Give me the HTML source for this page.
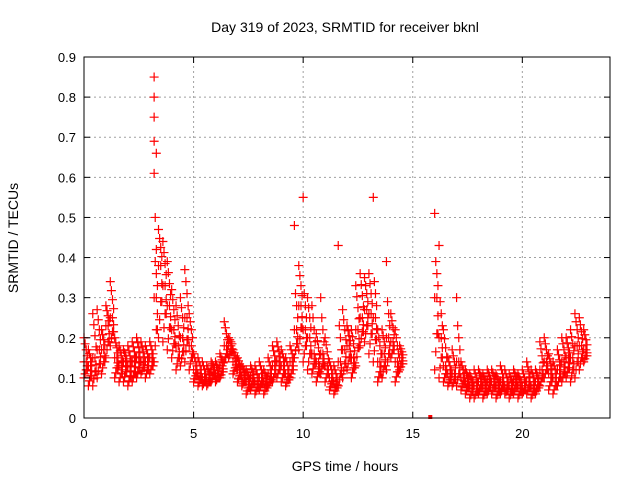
<!DOCTYPE html>
<html><head><meta charset="utf-8"><style>
body{margin:0;background:#fff;}
svg{display:block;font-family:"Liberation Sans",sans-serif;}
</style></head><body>
<svg id="chart" width="640" height="480" xmlns="http://www.w3.org/2000/svg">
<rect width="640" height="480" fill="#fff"/>
<text x="345" y="32" font-size="14" text-anchor="middle">Day 319 of 2023, SRMTID for receiver bknl</text>
<text transform="translate(18,238) rotate(-90)" font-size="14" text-anchor="middle">SRMTID / TECUs</text>
<text x="345" y="471" font-size="14" text-anchor="middle">GPS time / hours</text>
<g id="grid"></g>
<g id="marks"></g>
<rect x="84" y="57" width="526" height="361" fill="none" stroke="#000" stroke-width="1"/>
<g id="ticks"></g>
</svg>
<script>
const xTicks=[0,5,10,15,20];
const yTicks=[0,0.1,0.2,0.3,0.4,0.5,0.6,0.7,0.8,0.9];
const times=[0,0.2,0.4,0.6,0.8,1.0,1.2,1.4,1.6,1.8,2.0,2.2,2.4,2.6,2.8,3.0,3.2,3.4,3.6,3.8,4.0,4.2,4.4,4.6,4.8,5.0,5.2,5.4,5.6,5.8,6.0,6.2,6.4,6.6,6.8,7.0,7.2,7.4,7.6,7.8,8.0,8.2,8.4,8.6,8.8,9.0,9.2,9.4,9.6,9.8,10.0,10.2,10.4,10.6,10.8,11.0,11.2,11.4,11.6,11.8,12.0,12.2,12.4,12.6,12.8,13.0,13.2,13.4,13.6,13.8,14.0,14.2,14.4,16.0,16.2,16.4,16.6,16.8,17.0,17.2,17.4,17.6,17.8,18.0,18.2,18.4,18.6,18.8,19.0,19.2,19.4,19.6,19.8,20.0,20.2,20.4,20.6,20.8,21.0,21.2,21.4,21.6,21.8,22.0,22.2,22.4,22.6,22.8];
const lowVals=[.10,.08,.08,.10,.11,.15,.18,.10,.09,.09,.08,.09,.10,.11,.10,.11,.14,.20,.19,.17,.15,.12,.13,.14,.12,.09,.08,.08,.08,.09,.09,.10,.14,.15,.11,.09,.08,.06,.07,.06,.07,.06,.08,.09,.10,.09,.08,.10,.15,.17,.14,.12,.11,.09,.11,.09,.07,.06,.08,.10,.12,.10,.13,.18,.19,.16,.14,.09,.10,.12,.15,.09,.12,.12,.10,.09,.08,.08,.08,.07,.06,.05,.05,.06,.05,.06,.06,.05,.06,.06,.05,.06,.05,.06,.06,.05,.06,.08,.10,.07,.06,.08,.09,.10,.09,.10,.12,.14];
const midVals=[.14,.13,.15,.17,.17,.23,.25,.15,.13,.14,.13,.14,.15,.14,.14,.15,.30,.38,.33,.28,.22,.18,.20,.25,.18,.12,.11,.10,.10,.12,.11,.13,.18,.18,.14,.12,.10,.09,.10,.09,.10,.09,.11,.13,.14,.13,.11,.14,.22,.28,.22,.20,.16,.14,.16,.13,.10,.09,.14,.17,.18,.15,.22,.25,.27,.26,.25,.14,.16,.20,.19,.14,.15,.30,.20,.13,.11,.11,.14,.10,.09,.08,.08,.09,.08,.09,.09,.08,.09,.08,.08,.09,.08,.08,.09,.08,.09,.12,.14,.11,.10,.12,.14,.15,.15,.18,.18,.17];
const highVals=[.20,.17,.26,.27,.22,.28,.34,.20,.18,.17,.18,.19,.20,.19,.18,.19,.85,.47,.44,.39,.32,.28,.30,.37,.26,.16,.15,.14,.13,.14,.14,.16,.24,.20,.17,.15,.13,.12,.13,.13,.14,.12,.15,.18,.19,.17,.15,.18,.48,.38,.55,.30,.28,.21,.30,.20,.14,.13,.43,.27,.23,.22,.33,.36,.35,.36,.55,.22,.22,.39,.26,.22,.18,.51,.43,.22,.15,.17,.30,.14,.12,.11,.12,.12,.11,.12,.12,.11,.13,.12,.11,.12,.11,.12,.14,.12,.12,.19,.20,.16,.14,.17,.20,.20,.22,.26,.25,.22];
const spikeTimes=[3.2,3.2,3.2,3.2,3.25,3.3,3.3];
const spikeVals=[0.80,0.75,0.69,0.61,0.50,0.42,0.66];
const zeroTimes=[15.8];
const zeroVals=[0];

const X0=84,X1=610,Y0=418,Y1=57;
const xs=t=>X0+t*(X1-X0)/24;
const ys=v=>Y0-v*(Y0-Y1)/0.9;
const NS="http://www.w3.org/2000/svg";
const grid=document.getElementById('grid'),marks=document.getElementById('marks'),ticks=document.getElementById('ticks');
function mk(tag,attrs,parent){const e=document.createElementNS(NS,tag);for(const k in attrs)e.setAttribute(k,attrs[k]);parent.appendChild(e);return e;}
xTicks.forEach(t=>{
  const x=xs(t);
  if(t>0){const g=mk('line',{x1:x,y1:Y0,x2:x,y2:Y1,stroke:'#a0a0a0','stroke-dasharray':'2,3'},grid);
  
  }
  mk('line',{x1:x,y1:Y0,x2:x,y2:Y0-6,stroke:'#000'},ticks);
  mk('line',{x1:x,y1:Y1,x2:x,y2:Y1+6,stroke:'#000'},ticks);
  const l=mk('text',{x:x,y:Y0+20,'font-size':13,'text-anchor':'middle'},ticks);l.textContent=t;
  
  
});
yTicks.forEach(v=>{
  const y=ys(v);
  if(v>0&&v<0.9){const g=mk('line',{x1:X0,y1:y,x2:X1,y2:y,stroke:'#a0a0a0','stroke-dasharray':'2,3'},grid);
  
  }
  mk('line',{x1:X0,y1:y,x2:X0+6,y2:y,stroke:'#000'},ticks);
  mk('line',{x1:X1,y1:y,x2:X1-6,y2:y,stroke:'#000'},ticks);
  const l=mk('text',{x:X0-8,y:y+5,'font-size':13,'text-anchor':'end'},ticks);l.textContent=(v===0?'0':v.toFixed(1));
  
  
});
function plus(t,v){
  const x=xs(t),y=ys(v);
  const p=mk('path',{d:`M${x-4.5},${y}h9M${x},${y-4.5}v9`,stroke:'#ff0000','stroke-width':1.2,fill:'none'},marks);
  
  
}
times.forEach((t,i)=>{
  const lo=lowVals[i],mi=midVals[i],hi=highVals[i];
  const capHi=Math.min(hi,mi+0.12);
  [lo,mi,hi].forEach(v=>plus(t,v));
  const fr=[0.25,0.5,0.75];
  fr.forEach((f,j)=>{
    plus(t+0.05*(j+1),lo+(mi-lo)*f);
    plus(t+0.05*(3-j),mi+(capHi-mi)*f);
  });
  plus(t+0.1,mi);plus(t+0.15,lo+(mi-lo)*0.5);
});
spikeTimes.forEach((t,i)=>plus(t,spikeVals[i]));
zeroTimes.forEach((t,i)=>{
  const r=mk('rect',{x:xs(t)-2,y:ys(zeroVals[i])-3,width:4,height:4,fill:'#ff0000'},marks);
  
  
});
</script>
</body></html>
